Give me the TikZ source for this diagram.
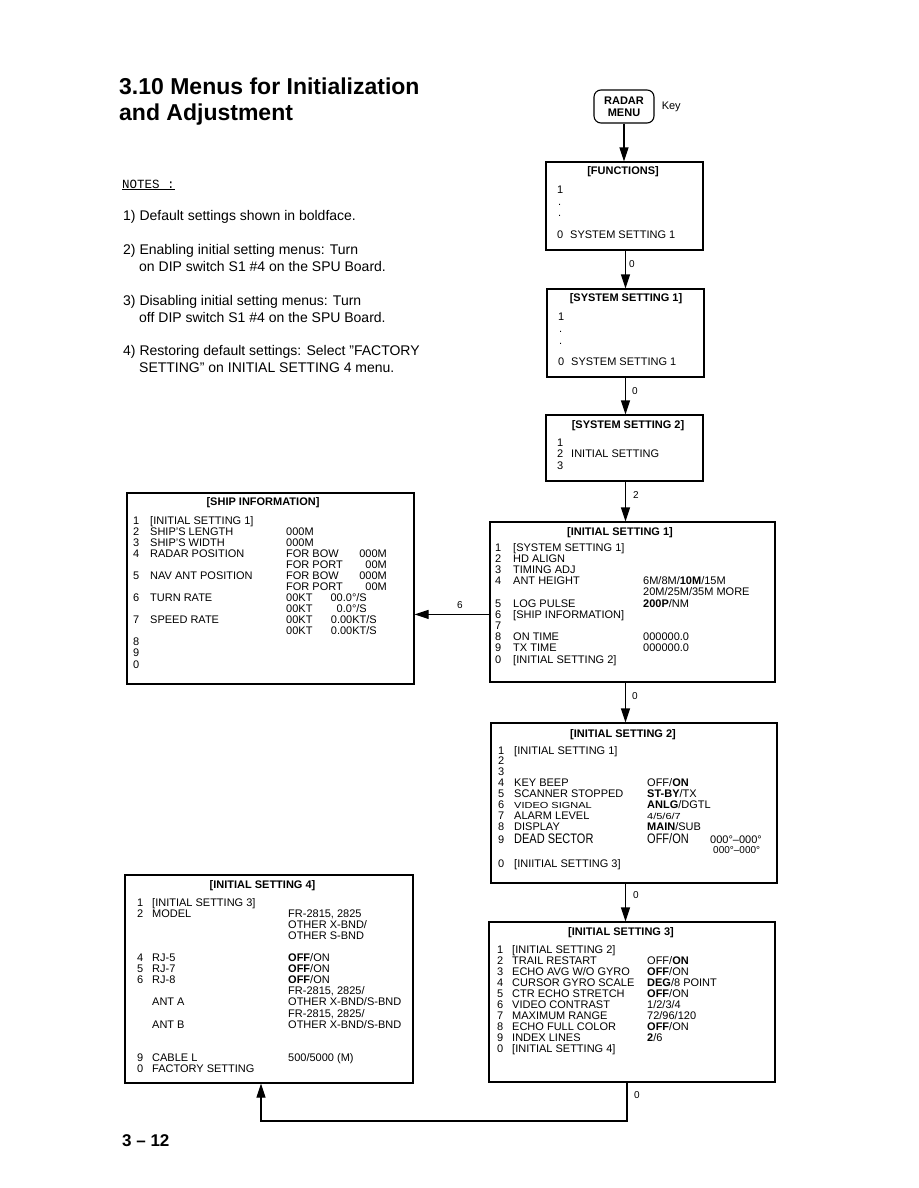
\documentclass[tikz,border=0pt]{standalone}
\usepackage{fontspec}
\setmainfont{Liberation Sans}
\setmonofont{Liberation Mono}
\usetikzlibrary{arrows.meta,positioning}
\newcommand{\rowfont}{\fontsize{11}{12}\selectfont}

\begin{document}
\begin{tikzpicture}[x=1pt, y=-1pt,
    menubox/.style={draw, line width=1.1pt, inner sep=0pt},
    boxhead/.style={anchor=base, inner sep=0pt, font=\rowfont\bfseries},
    rowtxt/.style={anchor=base west, inner sep=0pt, font=\rowfont},
    note/.style={anchor=base west, inner sep=0pt, font=\fontsize{14}{17}\selectfont},
    link/.style={line width=1.1pt, -{Triangle[length=14pt,width=9pt]}},
    linknum/.style={anchor=base west, inner sep=0pt, font=\fontsize{10}{12}\selectfont}]
  \useasboundingbox (0,0) rectangle (918,1188);
  % heading
  \node[anchor=base west, inner sep=0pt, font=\fontsize{23}{26}\selectfont\bfseries] (head1) at (119,95) {3.10 Menus for Initialization};
  \node[anchor=base west, inner sep=0pt, font=\fontsize{23}{26}\selectfont\bfseries] (head2) at (119,121) {and Adjustment};
  % notes
  \node[anchor=base west, inner sep=0pt, font=\fontsize{12.5}{14}\ttfamily] (notes) at (122,188) {\underline{NOTES :}};
  \node[note] (n1) at (123,220) {1) Default settings shown in boldface.};
  \node[note] (n2a) at (123,254) {2) Enabling initial setting menus: Turn};
  \node[note] (n2b) at (139,271) {on DIP switch S1 \#4 on the SPU Board.};
  \node[note] (n3a) at (123,305) {3) Disabling initial setting menus: Turn};
  \node[note] (n3b) at (139,322) {off DIP switch S1 \#4 on the SPU Board.};
  \node[note] (n4a) at (123,355) {4) Restoring default settings: Select "FACTORY};
  \node[note] (n4b) at (139,372) {SETTING" on INITIAL SETTING 4 menu.};

  % key and top menus
  \node[menubox, rounded corners=7pt, minimum width=60pt, minimum height=33pt, align=center,
        font=\fontsize{11}{12}\selectfont\bfseries] (radar) at (624,106.5) {RADAR\\MENU};
  \node[right=7pt of radar, inner sep=0pt, font=\rowfont] (keytxt) {Key};

  \node[menubox, minimum width=157pt, minimum height=88pt] (fun) at (624.5,206) {};
  \node[boxhead] (funT) at (623,174) {[FUNCTIONS]};
  \node[rowtxt] (fun1) at (557,193) {1};
  \node[rowtxt] (fund1) at (558,205) {.};
  \node[rowtxt] (fund2) at (558,216) {.};
  \node[rowtxt] (fun0) at (557,238) {0};
  \node[rowtxt] (fun0t) at (570,238) {SYSTEM SETTING 1};

  \node[menubox, minimum width=157pt, minimum height=88pt] (sys1) at (625.5,333) {};
  \node[boxhead] (sys1T) at (626,301.5) {[SYSTEM SETTING 1]};
  \node[rowtxt] (sys1a) at (558,320) {1};
  \node[rowtxt] (sys1d1) at (559,332) {.};
  \node[rowtxt] (sys1d2) at (559,344) {.};
  \node[rowtxt] (sys1b) at (558,365) {0};
  \node[rowtxt] (sys1bt) at (571,365) {SYSTEM SETTING 1};

  \node[menubox, minimum width=157pt, minimum height=66pt] (sys2) at (624.5,448) {};
  \node[boxhead] (sys2T) at (628,428) {[SYSTEM SETTING 2]};
  \node[rowtxt] (sys2a) at (557,446) {1};
  \node[rowtxt] (sys2b) at (557,457.5) {2};
  \node[rowtxt] (sys2bt) at (571,457.5) {INITIAL SETTING};
  \node[rowtxt] (sys2c) at (557,469) {3};

  % initial setting 1
  \node[menubox, minimum width=285pt, minimum height=160pt] (init1) at (632.5,602) {};
  \node[boxhead] (init1T) at (620,535.5) {[INITIAL SETTING 1]};
  \foreach \nr/\lb/\vl [count=\row from 0] in {
      1/{[SYSTEM SETTING 1]}/{}, 2/{HD ALIGN}/{}, 3/{TIMING ADJ}/{},
      4/{ANT HEIGHT}/{6M/8M/\textbf{10M}/15M}, {}/{}/{20M/25M/35M MORE},
      5/{LOG PULSE}/{\textbf{200P}/NM}, 6/{[SHIP INFORMATION]}/{}, 7/{}/{},
      8/{ON TIME}/{000000.0}, 9/{TX TIME}/{000000.0}, 0/{[INITIAL SETTING 2]}/{}}{
    \node[rowtxt] (i1n\row) at (495,551+11.2*\row) {\nr};
    \node[rowtxt] (i1l\row) at (513,551+11.2*\row) {\lb};
    \node[rowtxt] (i1v\row) at (643,551+11.2*\row) {\vl};
  }

  % ship information
  \node[menubox, minimum width=287pt, minimum height=191pt] (ship) at (270.5,588.5) {};
  \node[boxhead] (shipT) at (263,505) {[SHIP INFORMATION]};
  \foreach \nr/\lb/\vl [count=\row from 0] in {
      1/{[INITIAL SETTING 1]}/{}, 2/{SHIP'S LENGTH}/{000M}, 3/{SHIP'S WIDTH}/{000M},
      4/{RADAR POSITION}/{FOR BOW}, {}/{}/{FOR PORT}, 5/{NAV ANT POSITION}/{FOR BOW},
      {}/{}/{FOR PORT}, 6/{TURN RATE}/{00KT}, {}/{}/{00KT}, 7/{SPEED RATE}/{00KT},
      {}/{}/{00KT}, 8/{}/{}, 9/{}/{}, 0/{}/{}}{
    \node[rowtxt] (sn\row) at (133,524+11.08*\row) {\nr};
    \node[rowtxt] (sl\row) at (150,524+11.08*\row) {\lb};
    \node[rowtxt] (sv\row) at (286,524+11.08*\row) {\vl};
  }
  \node[rowtxt, anchor=base east] (sw3) at (387,557.2) {000M};
  \node[rowtxt, anchor=base east] (sw4) at (387,568.3) {00M};
  \node[rowtxt, anchor=base east] (sw5) at (387,579.4) {000M};
  \node[rowtxt, anchor=base east] (sw6) at (387,590.5) {00M};
  \node[rowtxt, anchor=base east] (sw7) at (367,601.6) {00.0°/S};
  \node[rowtxt, anchor=base east] (sw8) at (367,612.6) {0.0°/S};
  \node[rowtxt, anchor=base east] (sw9) at (377,623.7) {0.00KT/S};
  \node[rowtxt, anchor=base east] (sw10) at (377,634.8) {0.00KT/S};

  % initial setting 2
  \node[menubox, minimum width=286pt, minimum height=160pt] (init2) at (634,803) {};
  \node[boxhead] (init2T) at (623,737) {[INITIAL SETTING 2]};
  \foreach \nr/\lb/\vl [count=\row from 0] in {
      1/{[INITIAL SETTING 1]}/{}, 2/{}/{}, 3/{}/{},
      4/{KEY BEEP}/{OFF/\textbf{ON}}, 5/{SCANNER STOPPED}/{\textbf{ST-BY}/TX},
      6/{\scalebox{1}[0.8]{VIDEO SIGNAL}}/{\textbf{ANLG}/DGTL},
      7/{ALARM LEVEL}/{\scalebox{1}[0.8]{4/5/6/7}}, 8/{DISPLAY}/{\textbf{MAIN}/SUB}}{
    \node[rowtxt] (i2n\row) at (498,754+10.9*\row) {\nr};
    \node[rowtxt] (i2l\row) at (514,754+10.9*\row) {\lb};
    \node[rowtxt] (i2v\row) at (647,754+10.9*\row) {\vl};
  }
  \node[rowtxt] (i2n8) at (498,843) {9};
  \node[rowtxt] (i2l8) at (514,843) {\scalebox{1}[1.25]{DEAD SECTOR}};
  \node[rowtxt] (i2v8) at (647,843) {\scalebox{1}[1.25]{OFF/ON}};
  \node[rowtxt] (i2w8) at (710,843) {000°–000°};
  \node[rowtxt, font=\fontsize{10}{12}\selectfont] (i2w9) at (713,853) {000°–000°};
  \node[rowtxt] (i2n10) at (498,867) {0};
  \node[rowtxt] (i2l10) at (514,867) {[INIITIAL SETTING 3]};

  % initial setting 3
  \node[menubox, minimum width=286pt, minimum height=160pt] (init3) at (632,1002) {};
  \node[boxhead] (init3T) at (621,935) {[INITIAL SETTING 3]};
  \foreach \nr/\lb/\vl [count=\row from 0] in {
      1/{[INITIAL SETTING 2]}/{}, 2/{TRAIL RESTART}/{OFF/\textbf{ON}},
      3/{ECHO AVG W/O GYRO}/{\textbf{OFF}/ON}, 4/{CURSOR GYRO SCALE}/{\textbf{DEG}/8 POINT},
      5/{CTR ECHO STRETCH}/{\textbf{OFF}/ON}, 6/{VIDEO CONTRAST}/{1/2/3/4},
      7/{MAXIMUM RANGE}/{72/96/120}, 8/{ECHO FULL COLOR}/{\textbf{OFF}/ON},
      9/{INDEX LINES}/{\textbf{2}/6}, 0/{[INITIAL SETTING 4]}/{}}{
    \node[rowtxt] (i3n\row) at (497,953+11.1*\row) {\nr};
    \node[rowtxt] (i3l\row) at (512,953+11.1*\row) {\lb};
    \node[rowtxt] (i3v\row) at (647,953+11.1*\row) {\vl};
  }

  % initial setting 4
  \node[menubox, minimum width=288pt, minimum height=208pt] (init4) at (269,979) {};
  \node[boxhead] (init4T) at (262.5,888) {[INITIAL SETTING 4]};
  \foreach \nr/\lb/\vl [count=\row from 0] in {
      1/{[INITIAL SETTING 3]}/{}, 2/{MODEL}/{FR-2815, 2825}, {}/{}/{OTHER X-BND/},
      {}/{}/{OTHER S-BND}, {}/{}/{}, 4/{RJ-5}/{\textbf{OFF}/ON}, 5/{RJ-7}/{\textbf{OFF}/ON},
      6/{RJ-8}/{\textbf{OFF}/ON}, {}/{}/{FR-2815, 2825/}, {}/{ANT A}/{OTHER X-BND/S-BND},
      {}/{}/{FR-2815, 2825/}, {}/{ANT B}/{OTHER X-BND/S-BND}, {}/{}/{}, {}/{}/{},
      9/{CABLE L}/{500/5000 (M)}, 0/{FACTORY SETTING}/{}}{
    \node[rowtxt] (i4n\row) at (137,906+11.1*\row) {\nr};
    \node[rowtxt] (i4l\row) at (152,906+11.1*\row) {\lb};
    \node[rowtxt] (i4v\row) at (288,906+11.1*\row) {\vl};
  }

  % arrows down the menus
  \coordinate (spine) at (625.5,0);
  \draw[link] (radar.south) -- (radar.south |- fun.north);
  \draw[link] (fun.south -| spine) -- (sys1.north -| spine);
  \node[linknum] (lab1) at (629,267) {0};
  \draw[link] (sys1.south -| spine) -- (sys2.north -| spine);
  \node[linknum] (lab2) at (632,394) {0};
  \draw[link] (sys2.south -| spine) -- (init1.north -| spine);
  \node[linknum] (lab3) at (633,498) {2};
  \draw[link] (init1.south -| spine) -- (init2.north -| spine);
  \node[linknum] (lab4) at (632,699) {0};
  \draw[link] (init2.south -| spine) -- (init3.north -| spine);
  \node[linknum] (lab5) at (633,898) {0};
  \draw[link] (init1.west |- i1n6) -- (ship.east |- i1n6);
  \node[linknum] (lab6) at (457,608) {6};

  % way back to initial setting 4
  \coordinate (drop) at (627,1121);
  \coordinate (back) at (261,1121);
  \draw[link] (init3.south -| drop) -- (drop) -- (back) -- (back |- init4.south);
  \node[linknum] (lab7) at (634,1098) {0};

  % page number
  \node[anchor=base west, inner sep=0pt, font=\fontsize{17}{20}\selectfont\bfseries] (pageno) at (122,1146) {3 – 12};
\end{tikzpicture}
\end{document}
